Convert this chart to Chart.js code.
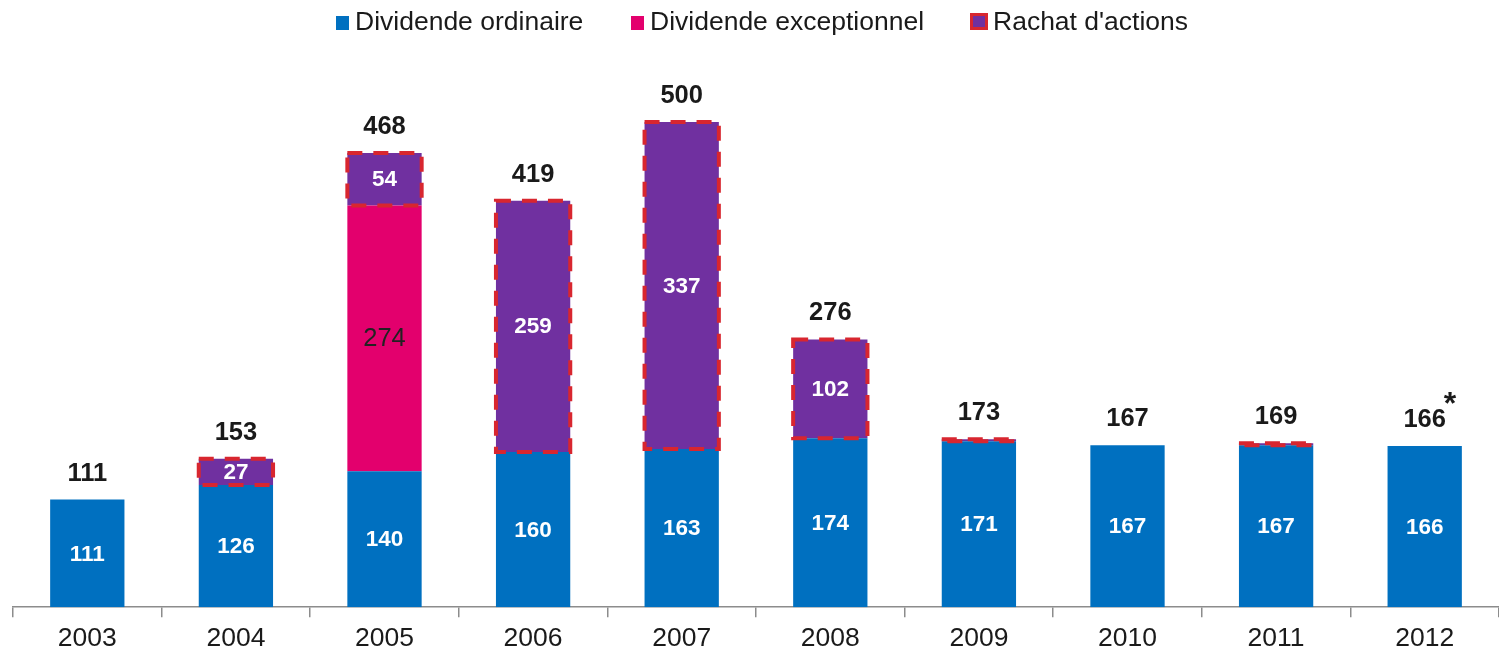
<!DOCTYPE html>
<html>
<head>
<meta charset="utf-8">
<script src="https://cdn.jsdelivr.net/npm/chart.js@4.4.0/dist/chart.umd.min.js"></script>
<style>
  html, body { margin: 0; padding: 0; background: #fff; overflow: hidden; }
  #page { position: relative; width: 1499px; height: 652px; overflow: hidden; }
  #wrap { position: absolute; left: 0; top: 0; width: 1499px; height: 663px; }
  #legend { position: absolute; top: 0; left: 0; width: 1499px; height: 40px;
            font-family: "Liberation Sans", Arial, sans-serif; font-size: 26.5px; color: #1a1a1a; }
  .item { position: absolute; top: 6px; height: 30px; line-height: 30px; white-space: nowrap; }
  .box { position: absolute; top: 10px; width: 13px; height: 14px; }
  .box.dash { width: 12px; height: 11px; border: 3px solid #D8262F; top: 7px; }
  .item span { position: absolute; top: 0; }
</style>
</head>
<body>
<div id="page">
  <div id="wrap"><canvas id="chart"></canvas></div>
  <div id="legend"></div>
</div>
<script>
// Chart data
const years = ['2003', '2004', '2005', '2006', '2007', '2008', '2009', '2010', '2011', '2012'];
const ordinaire = [111, 126, 140, 160, 163, 174, 171, 167, 167, 166];
const exceptionnel = [null, null, 274, null, null, null, null, null, null, null];
const rachat = [null, 27, 54, 259, 337, 102, 2, null, 2, null];
const totals = [111, 153, 468, 419, 500, 276, 173, 167, 169, 166];
const totalNotes = ['', '', '', '', '', '', '', '', '', '*'];
const seriesNames = ['Dividende ordinaire', 'Dividende exceptionnel', "Rachat d'actions"];

const BLUE = '#0070C0';
const MAGENTA = '#E3006D';
const PURPLE = '#7030A0';
const RED = '#D8262F';
const FONT = '"Liberation Sans", Arial, sans-serif';

// Legend (HTML, above the canvas)
const legendLeft = [336, 631, 970];
const legendColors = [BLUE, MAGENTA, PURPLE];
document.getElementById('legend').innerHTML = seriesNames.map((name, i) => `
    <div class="item" style="left:${legendLeft[i]}px">
        <div class="box${i === 2 ? ' dash' : ''}" style="background:${legendColors[i]}"></div>
        <span style="left:${i === 2 ? 23 : 19}px">${name}</span>
    </div>
`).join('');

// Dashed outline around the buyback segments + value labels
const labelPlugin = {
    id: 'labels',
    afterDatasetsDraw(chart) {
        const ctx = chart.ctx;
        const yScale = chart.scales.y;

        // dashed borders for "Rachat d'actions"
        const rMeta = chart.getDatasetMeta(2);
        ctx.save();
        ctx.strokeStyle = RED;
        ctx.lineWidth = 4;
        ctx.setLineDash([15, 11]);
        rMeta.data.forEach((el, i) => {
            if (rachat[i] == null) return;
            const w = el.width;
            ctx.strokeRect(el.x - w / 2, el.y, w, el.base - el.y);
        });
        ctx.restore();

        // inner labels
        ctx.save();
        ctx.textAlign = 'center';
        ctx.textBaseline = 'middle';
        chart.data.datasets.forEach((ds, di) => {
            const meta = chart.getDatasetMeta(di);
            meta.data.forEach((el, i) => {
                const v = ds.data[i];
                if (v == null || v < 10) return;
                const cy = (el.y + el.base) / 2;
                if (di === 1) {
                    ctx.fillStyle = '#222';
                    ctx.font = '25.5px ' + FONT;
                } else {
                    ctx.fillStyle = '#fff';
                    ctx.font = 'bold 22.5px ' + FONT;
                }
                ctx.fillText(String(v), el.x, cy + 1);
            });
        });

        // totals above the stacks
        const xMeta = chart.getDatasetMeta(0);
        ctx.fillStyle = '#1a1a1a';
        ctx.font = 'bold 25.5px ' + FONT;
        totals.forEach((t, i) => {
            const x = xMeta.data[i].x;
            const y = yScale.getPixelForValue(t) - 26;
            ctx.fillText(String(t), x, y);
            if (totalNotes[i]) {
                const w = ctx.measureText(String(t)).width;
                ctx.font = 'bold 32px ' + FONT;
                ctx.fillText(totalNotes[i], x + w / 2 + 4, y - 15);
                ctx.font = 'bold 25.5px ' + FONT;
            }
        });
        ctx.restore();
    }
};

new Chart(document.getElementById('chart'), {
    type: 'bar',
    data: {
        labels: years,
        datasets: [
            { label: seriesNames[0], data: ordinaire, backgroundColor: BLUE },
            { label: seriesNames[1], data: exceptionnel, backgroundColor: MAGENTA },
            { label: seriesNames[2], data: rachat, backgroundColor: PURPLE }
        ]
    },
    options: {
        responsive: true,
        maintainAspectRatio: false,
        animation: false,
        layout: { padding: { left: 13, right: 0, top: 25, bottom: 2 } },
        datasets: {
            bar: { categoryPercentage: 1, barPercentage: 0.5, borderWidth: 0 }
        },
        plugins: {
            tooltip: { enabled: false },
            legend: { display: false }
        },
        scales: {
            x: {
                stacked: true,
                grid: { display: true, drawOnChartArea: false, offset: true, tickLength: 10, color: '#8c8c8c', lineWidth: 1.5 },
                border: { display: true, color: '#8c8c8c', width: 1.5 },
                ticks: { font: { family: FONT, size: 26.5 }, color: '#1a1a1a', padding: 6 }
            },
            y: {
                stacked: true,
                display: false,
                min: 0,
                max: 600
            }
        }
    },
    plugins: [labelPlugin]
});
</script>
</body>
</html>
